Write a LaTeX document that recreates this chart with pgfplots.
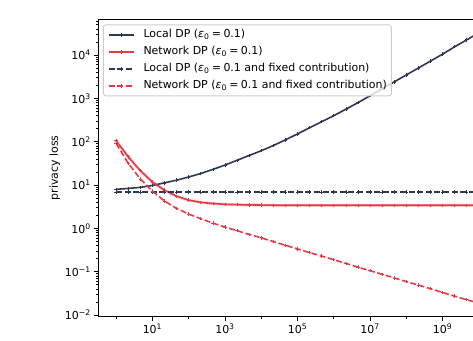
\documentclass[border=0pt]{standalone}
\usepackage{fontspec}
\setmainfont{DejaVu Sans}
\usepackage{pgfplots}
\pgfplotsset{compat=1.18}
\usepackage{pgfplotstable}
\definecolor{cdark}{RGB}{46,56,82}
\definecolor{cred}{RGB}{230,57,70}
\newcommand\ee[1]{10\textsuperscript{#1}}
\newcommand\epsz{(\textit{ε}\textsubscript{0}\hspace{0.22em}=\hspace{0.22em}0.1}

\pgfplotstableread{
n        local  network localfix networkfix
1        7.94   104.7   6.85     91.2
2.154    8.32   44.7    6.85     31.6
4.642    8.81   21.4    6.85     13.8
10       9.77   11.7    6.85     7.24
21.54    11.2   7.59    6.85     4.27
46.42    12.9   5.50    6.85     2.88
100      15.3   4.47    6.85     2.14
215.4    18.4   3.98    6.85     1.66
464.2    22.9   3.72    6.85     1.32
1000     28.8   3.59    6.85     1.07
2154     37.2   3.51    6.85     0.881
4642     47.9   3.47    6.85     0.724
1e4      61.7   3.44    6.85     0.603
2.154e4  81.3   3.41    6.85     0.495
4.642e4  110    3.40    6.85     0.407
1e5      151    3.40    6.85     0.335
2.154e5  209    3.40    6.85     0.275
4.642e5  288    3.40    6.85     0.229
1e6      398    3.40    6.85     0.188
2.154e6  562    3.40    6.85     0.155
4.642e6  794    3.40    6.85     0.127
1e7      1148   3.40    6.85     0.105
2.154e7  1660   3.40    6.85     0.0871
4.642e7  2399   3.40    6.85     0.0716
1e8      3467   3.40    6.85     0.0589
2.154e8  5012   3.40    6.85     0.0490
4.642e8  7244   3.40    6.85     0.0403
1e9      10471  3.40    6.85     0.0331
2.154e9  15488  3.40    6.85     0.0272
4.642e9  22387  3.40    6.85     0.0224
1e10     32509  3.40    6.85     0.0187
}\datatable

\begin{document}
\begin{tikzpicture}
\begin{axis}[
  at={(98bp,24.3bp)}, anchor=south west,
  scale only axis, width=399bp, height=297.4bp,
  xmode=log, ymode=log,
  xmin=0.3162, xmax=3.162e10,
  ymin=0.00912, ymax=66680,
  axis line style={line width=0.9bp},
  tick align=outside, tick pos=left,
  major tick length=3.85bp, minor tick length=2.2bp,
  major tick style={black, line width=0.9bp},
  minor tick style={black, line width=0.66bp},
  xtick={10,1e3,1e5,1e7,1e9},
  xticklabels={\ee{1},\ee{3},\ee{5},\ee{7},\ee{9}},
  minor xtick={1,100,1e4,1e6,1e8,1e10},
  ytick={1e-2,1e-1,1,10,100,1e3,1e4},
  yticklabels={\ee{−2},\ee{−1},\ee{0},\ee{1},\ee{2},\ee{3},\ee{4}},
  minor ytick={0.02,0.03,0.04,0.05,0.06,0.07,0.08,0.09,
               0.2,0.3,0.4,0.5,0.6,0.7,0.8,0.9,
               2,3,4,5,6,7,8,9,
               20,30,40,50,60,70,80,90,
               200,300,400,500,600,700,800,900,
               2000,3000,4000,5000,6000,7000,8000,9000,
               20000,30000,40000,50000,60000},
  tick label style={font=\fontsize{11}{13}\selectfont},
  ylabel={privacy loss},
  ylabel style={at={(axis description cs:-0.108,0.5)}, anchor=center, font=\fontsize{11}{13}\selectfont},
  legend cell align=left,
  legend image code/.code={\draw[mark repeat=2,mark phase=2,#1] plot coordinates {(0bp,0bp) (12.5bp,0bp) (25bp,0bp)};},
  legend style={at={(axis description cs:0.0125,0.983)}, anchor=north west,
    draw=black!20, line width=0.9bp, rounded corners=2.5bp,
    fill=white, fill opacity=0.8, text opacity=1, draw opacity=1,
    inner xsep=4.5bp, inner ysep=4.5bp,
    font=\fontsize{11}{13}\selectfont,
    row sep=6bp, column sep=9bp,
    nodes={inner sep=0pt, text height=8.5bp, text depth=2.5bp}},
]
\addplot[cred, opacity=0.22, line width=3bp, forget plot] table[x=n,y=network]{\datatable};
\addplot[cdark, line width=1.6bp, mark=+, mark size=1.7bp, mark options={solid, line width=0.7bp}] table[x=n,y=local]{\datatable};
\addlegendentry{Local DP \epsz)}
\addplot[cred, line width=1.6bp, mark=+, mark size=1.7bp, mark options={solid, line width=0.7bp}] table[x=n,y=network]{\datatable};
\addlegendentry{Network DP \epsz)}
\addplot[cdark, line width=1.6bp, dash pattern=on 6bp off 2.6bp, mark=+, mark size=1.7bp, mark options={solid, line width=0.7bp}] table[x=n,y=localfix]{\datatable};
\addlegendentry{Local DP \epsz\ and fixed contribution)}
\addplot[cred, line width=1.6bp, dash pattern=on 6bp off 2.6bp, mark=+, mark size=1.7bp, mark options={solid, line width=0.7bp}] table[x=n,y=networkfix]{\datatable};
\addlegendentry{Network DP \epsz\ and fixed contribution)}
\end{axis}
\pgfresetboundingbox
\useasboundingbox (0,0) rectangle (473bp,341bp);
\end{tikzpicture}
\end{document}
